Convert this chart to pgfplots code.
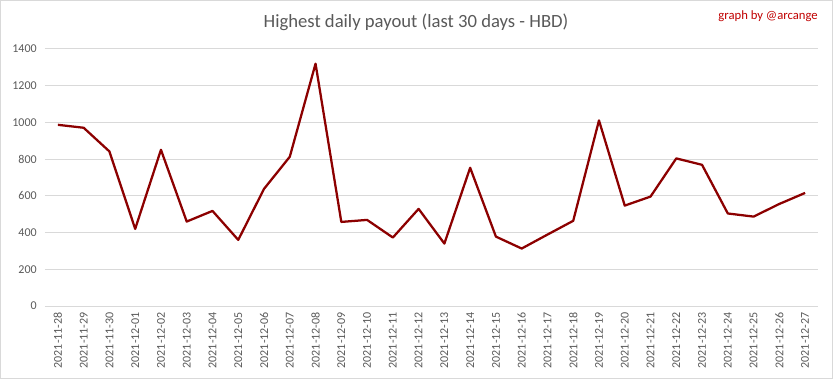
\documentclass[border=0pt]{standalone}
\usepackage{fontspec}
\setmainfont{Carlito}
\usepackage{pgfplots}
\pgfplotsset{compat=1.18}
\definecolor{linered}{RGB}{140,0,0}
\definecolor{txtgray}{RGB}{89,89,89}
\definecolor{gridgray}{RGB}{217,217,217}
\definecolor{credred}{RGB}{192,0,0}
\begin{document}
\begin{tikzpicture}
\useasboundingbox (0,0) rectangle (624.75pt,284.25pt);
\draw[gridgray, line width=0.75pt] (0.375pt,0.375pt) rectangle (624.375pt,283.875pt);
\begin{axis}[
  at={(33.75pt,54.75pt)}, anchor=south west,
  scale only axis, width=579.75pt, height=192.75pt,
  xmin=-0.5, xmax=29.5, ymin=0, ymax=1400,
  ytick={0,200,...,1400},
  xtick={0,...,29},
  xticklabels={2021-11-28,2021-11-29,2021-11-30,2021-12-01,2021-12-02,2021-12-03,2021-12-04,2021-12-05,2021-12-06,2021-12-07,2021-12-08,2021-12-09,2021-12-10,2021-12-11,2021-12-12,2021-12-13,2021-12-14,2021-12-15,2021-12-16,2021-12-17,2021-12-18,2021-12-19,2021-12-20,2021-12-21,2021-12-22,2021-12-23,2021-12-24,2021-12-25,2021-12-26,2021-12-27},
  axis line style={draw=none},
  major tick length=0pt,
  ymajorgrids, grid style={gridgray, line width=0.75pt},
  tick label style={font=\fontsize{9}{10}\selectfont, text=txtgray},
  /pgf/number format/assume math mode=true,
  /pgf/number format/1000 sep={},
  x tick label style={rotate=90, anchor=east, inner sep=0pt, yshift=0pt, xshift=0pt},
  xticklabel shift=4.5pt,
  yticklabel style={inner sep=0pt},
  yticklabel shift=6pt,
  clip=false,
]
\addplot[linered, line width=1.7pt, line join=round] table {
x y
0 987
1 971
2 842
3 420
4 851
5 460
6 518
7 360
8 638
9 813
10 1320
11 458
12 469
13 373
14 529
15 340
16 753
17 378
18 313
19 389
20 464
21 1011
22 547
23 596
24 804
25 769
26 504
27 487
28 556
29 616
};
\end{axis}
\node[text=txtgray, font=\fontsize{14}{16}\selectfont] at (312pt,267.75pt) {Highest daily payout (last 30 days - HBD)};
\node[text=credred, font=\fontsize{9.5}{11}\selectfont, anchor=east, inner sep=0pt] at (613.5pt,272.25pt) {graph by @arcange};
\end{tikzpicture}
\end{document}
